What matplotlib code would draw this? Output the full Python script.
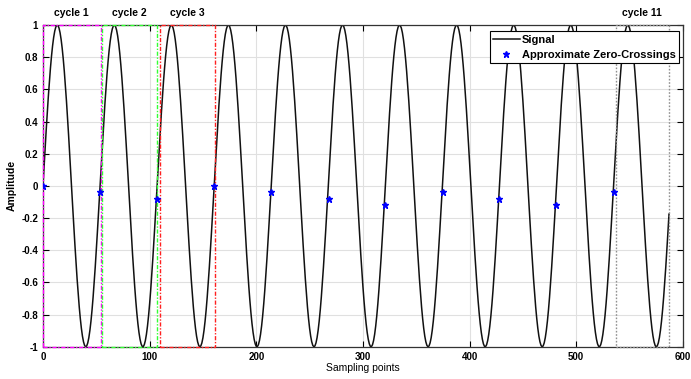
import numpy as np
import matplotlib
matplotlib.use("Agg")
import matplotlib.pyplot as plt

plt.rcParams['font.family'] = ['Liberation Sans', 'DejaVu Sans']

n_samples = 588
period = 53.5
samples = np.arange(n_samples)
signal = np.sin(2 * np.pi * samples / period)

# approximate zero crossings
zc_x = [0, 53, 107, 160, 214, 268, 321, 375, 428, 481, 535]
zc_y = [0.0, -0.04, -0.08, 0.0, -0.04, -0.08, -0.12, -0.04, -0.08, -0.12, -0.04]

# cycle windows
cycle_names = ['cycle 1', 'cycle 2', 'cycle 3', 'cycle 11']
cycle_start = [0, 55.5, 109.5, 537]
cycle_end = [54, 106.5, 161, 587]
cycle_colors = ['#ff00ff', '#33ff33', '#ff2020', '#909090']
cycle_styles = [(0, (3, 1.2, 1, 1.2)), (0, (3, 1.2, 1, 1.2)), (0, (3, 1.2, 1, 1.2)), (0, (1.2, 1.2))]

fig = plt.figure(figsize=(6.91, 3.79), dpi=100)
ax = fig.add_axes([0.0622, 0.085, 0.926, 0.849])

ax.grid(True, color='#e0e0e0', linewidth=0.8)
ax.set_axisbelow(True)

for name, x0, x1, c, ls in zip(cycle_names, cycle_start, cycle_end, cycle_colors, cycle_styles):
    ax.plot([x0, x1, x1, x0, x0], [-1, -1, 1, 1, -1], color=c, linestyle=ls,
            linewidth=1.0, clip_on=False, zorder=3)
    ax.text((x0 + x1) / 2, 1.045, name, ha='center', va='bottom',
            fontsize=7.5, fontweight='bold')

ax.plot(samples, signal, color='#111111', linewidth=1.1, label='Signal')
ax.plot(zc_x, zc_y, linestyle='none', marker='*', color='blue',
        markersize=5, label='Approximate Zero-Crossings', zorder=4)

ax.set_xlim(0, 600)
ax.set_ylim(-1, 1)
ax.set_xticks(np.arange(0, 601, 100))
ax.set_yticks(np.round(np.arange(-1, 1.01, 0.2), 1))
ax.set_yticklabels(['-1', '-0.8', '-0.6', '-0.4', '-0.2', '0', '0.2', '0.4', '0.6', '0.8', '1'])
ax.tick_params(direction='in', top=True, right=True, labelsize=7, length=4, width=0.8)
for lab in ax.get_xticklabels() + ax.get_yticklabels():
    lab.set_fontweight('bold')
for sp in ax.spines.values():
    sp.set_linewidth(0.9)
    sp.set_color('#333333')

ax.set_xlabel('Sampling points', fontsize=7.5, labelpad=1)
ax.set_ylabel('Amplitude', fontsize=7.5, fontweight='bold', labelpad=3)

leg = ax.legend(loc='upper right', prop={'weight': 'bold', 'size': 8},
                frameon=True, fancybox=False, edgecolor='black', framealpha=1,
                borderpad=0.3, labelspacing=0.45, handlelength=2.4, handletextpad=0.2,
                borderaxespad=0, bbox_to_anchor=(0.994, 0.98))
leg.get_frame().set_linewidth(0.8)

fig.savefig('out.png', dpi=100)
